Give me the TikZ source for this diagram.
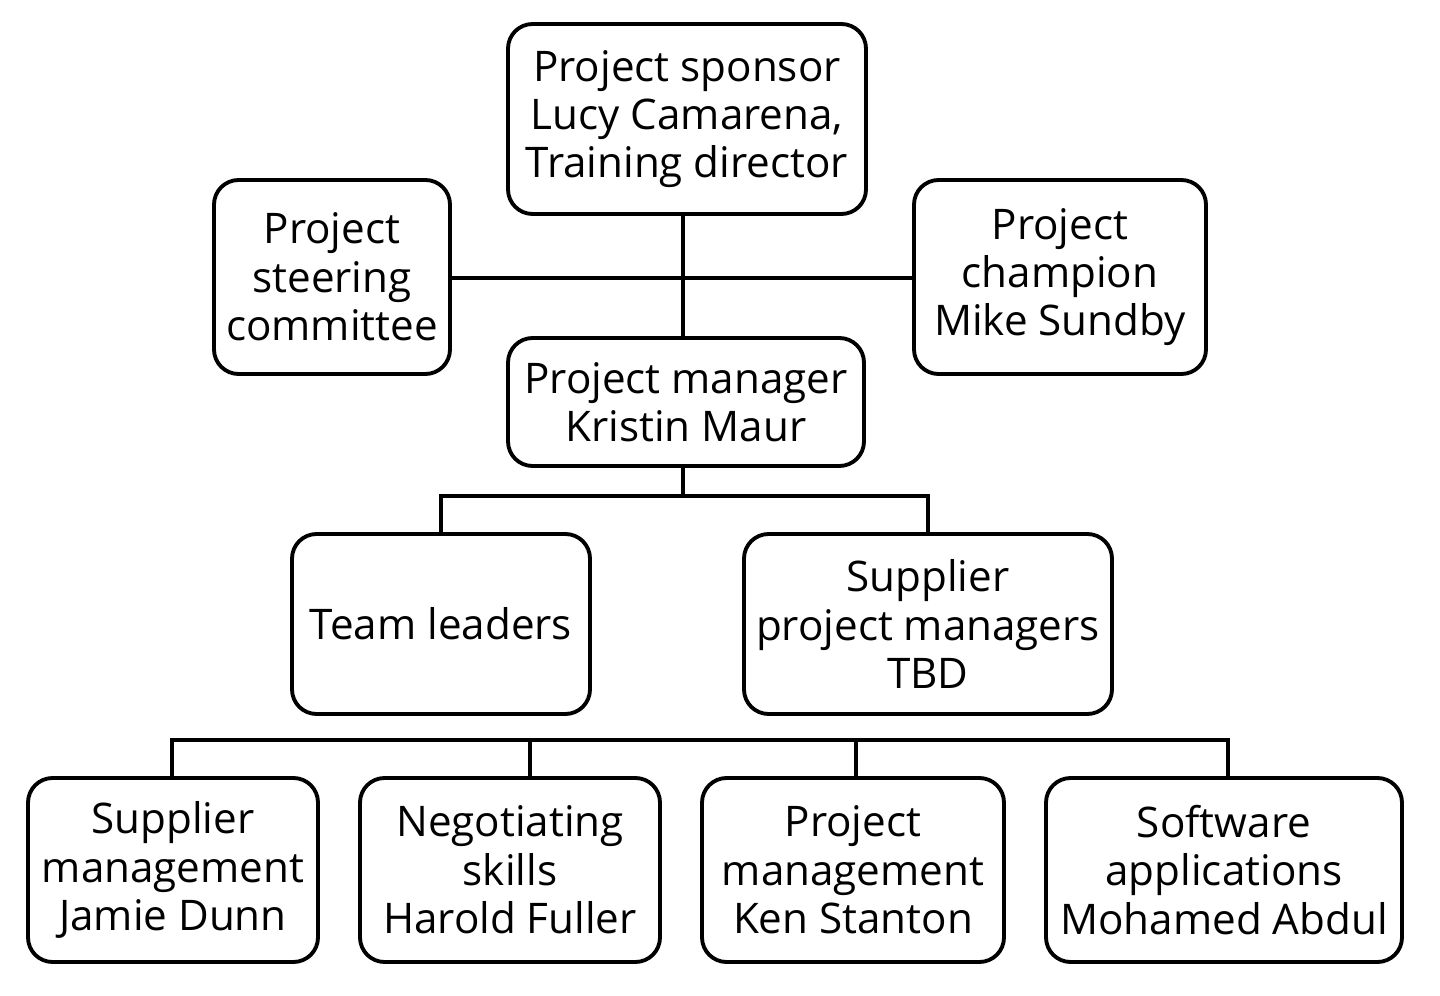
\documentclass[tikz,border=0pt]{standalone}
\usepackage{fontspec}
\setmainfont{Open Sans}
\begin{document}
\begin{tikzpicture}[x=0.02cm,y=-0.02cm,
  box/.style={draw,line width=2.2pt,rounded corners=14pt,align=center,inner sep=0pt,
    font=\fontsize{24}{27.5}\selectfont},
  conn/.style={line width=2.2pt}]
\useasboundingbox (0,0) rectangle (1440,996);
\newcommand{\bx}[6]{\node[box,minimum width={(#3-#2)*0.02cm},minimum height={(#5-#4)*0.02cm}] (#1) at ({(#2+#3)/2},{(#4+#5)/2}) {#6};}
\bx{sp}{508}{866}{24}{214}{Project sponsor\\Lucy Camarena,\\Training director}
\bx{st}{214}{450}{180}{374}{Project\\steering\\committee}
\bx{ch}{914}{1206}{180}{374}{Project\\champion\\Mike Sundby}
\bx{pm}{508}{864}{338}{466}{Project manager\\Kristin Maur}
\bx{tl}{292}{590}{534}{714}{Team leaders}
\bx{su}{744}{1112}{534}{714}{Supplier\\project managers\\TBD}
\bx{b1}{28}{318}{778}{962}{Supplier\\management\\Jamie Dunn}
\bx{b2}{360}{660}{778}{962}{Negotiating\\skills\\Harold Fuller}
\bx{b3}{702}{1004}{778}{962}{Project\\management\\Ken Stanton}
\bx{b4}{1046}{1402}{778}{962}{Software\\applications\\Mohamed Abdul}
\draw[conn] (sp.south -| 683,0) -- (pm.north -| 683,0);
\draw[conn] (st.east |- 0,278) -- (ch.west |- 0,278);
\coordinate (j) at (683,496);
\draw[conn] (pm.south -| j) -- (j);
\draw[conn] (tl.north) -- (tl.north |- j) -- (su.north |- j) -- (su.north);
\coordinate (bus) at (0,740);
\draw[conn] (b1.north -| 172,0) -- (172,740) -- (1228,740) -- (b4.north -| 1228,0);
\draw[conn] (b2.north -| 530,0) -- (530,740);
\draw[conn] (b3.north -| 856,0) -- (856,740);
\end{tikzpicture}
\end{document}
